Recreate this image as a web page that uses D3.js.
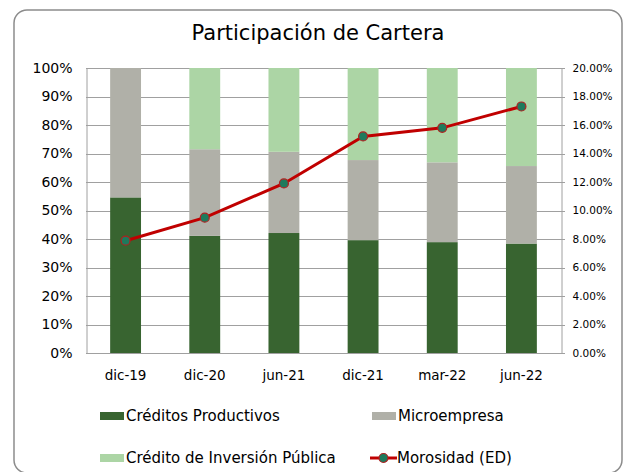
<!DOCTYPE html>
<html>
<head>
<meta charset="utf-8">
<script src="https://cdn.jsdelivr.net/npm/d3@7"></script>
<style>
  body { margin: 0; background: #fff; }
  text { font-family: "DejaVu Sans", Verdana, sans-serif; fill: #000; }
</style>
</head>
<body>
<div id="chart"></div>
<script>
// data
const categories = ["dic-19", "dic-20", "jun-21", "dic-21", "mar-22", "jun-22"]
const productivos = [0.546, 0.411, 0.421, 0.396, 0.389, 0.384]
const microempresa = [0.454, 0.304, 0.285, 0.281, 0.280, 0.272]
const inversionPublica = [0, 0.285, 0.294, 0.323, 0.331, 0.344]
const morosidad = [0.0788, 0.0950, 0.1190, 0.1520, 0.1580, 0.1730]
const leftTicks = [0, .1, .2, .3, .4, .5, .6, .7, .8, .9, 1]
const rightTicks = [0, .02, .04, .06, .08, .10, .12, .14, .16, .18, .20]

const width = 624, height = 472
const plot = { left: 86, right: 561, top: 68, bottom: 353 }

const svg = d3.select("#chart").append("svg")
  .attr("width", width)
  .attr("height", height)

// chart frame (bottom edge sits just below the window)
svg.append("rect")
  .attr("x", 14).attr("y", 10)
  .attr("width", 608).attr("height", 463)
  .attr("rx", 13)
  .attr("fill", "#fff")
  .attr("stroke", "#8c8c8c")
  .attr("stroke-width", 1.5)

svg.append("text")
  .attr("x", 318).attr("y", 40)
  .attr("text-anchor", "middle")
  .style("font-size", "21px")
  .text("Participación de Cartera")

const x = d3.scaleBand()
  .domain(categories)
  .range([plot.left, plot.right])
  .paddingInner(0.61)
  .paddingOuter(0.305)

const y = d3.scaleLinear().domain([0, 1]).range([plot.bottom, plot.top])
const y2 = d3.scaleLinear().domain([0, 0.2]).range([plot.bottom, plot.top])

// gridlines
svg.append("g")
  .selectAll("line")
  .data(leftTicks)
  .join("line")
    .attr("x1", plot.left).attr("x2", plot.right + 4)
    .attr("y1", d => Math.round(y(d)) + 0.5)
    .attr("y2", d => Math.round(y(d)) + 0.5)
    .attr("stroke", "#a0a0a0")

// left axis
const leftAxis = svg.append("g")
  .attr("transform", `translate(${plot.left + 0.5},0)`)
  .call(d3.axisLeft(y).tickValues(leftTicks).tickFormat(d3.format(".0%")).tickSize(0).tickPadding(14))
leftAxis.select(".domain").attr("stroke", "#a0a0a0")
leftAxis.selectAll("text").style("font-size", "14px").attr("fill", "#000")

// right axis
const rightAxis = svg.append("g")
  .attr("transform", `translate(${plot.right + 0.5},0)`)
  .call(d3.axisRight(y2).tickValues(rightTicks).tickFormat(d3.format(".2%")).tickSize(0).tickPadding(11))
rightAxis.select(".domain").attr("stroke", "#a0a0a0")
rightAxis.selectAll("text").style("font-size", "10.5px").attr("fill", "#000")

// stacked bars
const rows = categories.map((c, i) => ({
  cat: c, prod: productivos[i], micro: microempresa[i], pub: inversionPublica[i]
}))
const stack = d3.stack().keys(["prod", "micro", "pub"])(rows)
const colors = { prod: "#386430", micro: "#b0b0a8", pub: "#acd5a5" }

svg.append("g")
  .selectAll("g")
  .data(stack)
  .join("g")
    .attr("fill", d => colors[d.key])
  .selectAll("rect")
  .data(d => d)
  .join("rect")
    .attr("x", d => x(d.data.cat))
    .attr("width", x.bandwidth())
    .attr("y", d => y(d[1]))
    .attr("height", d => y(d[0]) - y(d[1]))

// x labels
svg.append("g")
  .selectAll("text")
  .data(categories)
  .join("text")
    .attr("x", d => x(d) + x.bandwidth() / 2)
    .attr("y", 380)
    .attr("text-anchor", "middle")
    .style("font-size", "13.5px")
    .text(d => d)

// morosidad line
const line = d3.line()
  .x((d, i) => x(categories[i]) + x.bandwidth() / 2)
  .y(d => y2(d))
svg.append("path")
  .datum(morosidad)
  .attr("d", line)
  .attr("fill", "none")
  .attr("stroke", "#c00000")
  .attr("stroke-width", 3)

svg.append("g")
  .selectAll("circle")
  .data(morosidad)
  .join("circle")
    .attr("cx", (d, i) => x(categories[i]) + x.bandwidth() / 2)
    .attr("cy", d => y2(d))
    .attr("r", 4.5)
    .attr("fill", "#1f7a5c")
    .attr("stroke", "#b02020")
    .attr("stroke-width", 1.2)

// legend
const legendItems = [
  { name: "Créditos Productivos", color: colors.prod, x: 100, y: 421, type: "box" },
  { name: "Microempresa", color: colors.micro, x: 372, y: 421, type: "box" },
  { name: "Crédito de Inversión Pública", color: colors.pub, x: 100, y: 463, type: "box" },
  { name: "Morosidad (ED)", color: "#c00000", x: 370, y: 463, type: "line" }
]
const legend = svg.append("g")
  .selectAll("g")
  .data(legendItems)
  .join("g")
    .attr("transform", d => `translate(${d.x},${d.y})`)

legend.filter(d => d.type == "box").append("rect")
  .attr("x", 0).attr("y", -9)
  .attr("width", 24).attr("height", 8)
  .attr("fill", d => d.color)

legend.filter(d => d.type == "line").append("line")
  .attr("x1", 0).attr("x2", 27)
  .attr("y1", -5).attr("y2", -5)
  .attr("stroke", "#c00000")
  .attr("stroke-width", 3)
legend.filter(d => d.type == "line").append("circle")
  .attr("cx", 13.5).attr("cy", -5).attr("r", 4.5)
  .attr("fill", "#1f7a5c")
  .attr("stroke", "#b02020")
  .attr("stroke-width", 1.2)

legend.append("text")
  .attr("x", d => d.type == "line" ? 27 : 26)
  .attr("y", 0)
  .style("font-size", "15px")
  .text(d => d.name)
</script>
</body>
</html>
